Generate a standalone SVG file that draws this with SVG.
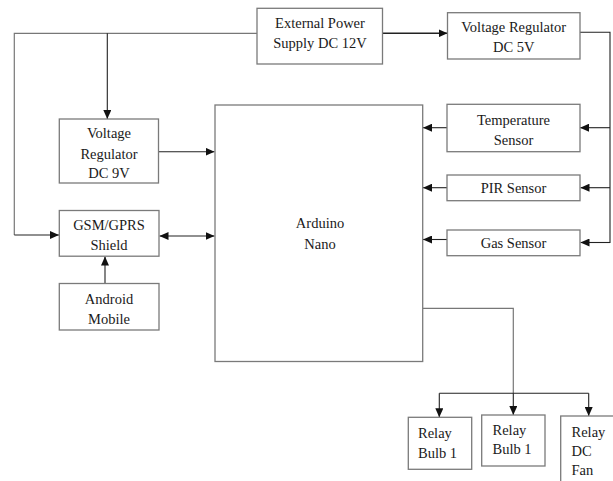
<svg xmlns="http://www.w3.org/2000/svg" width="613" height="481" viewBox="0 0 613 481">
<defs>
<style>
.box{fill:#fff;stroke:#7a7a7a;stroke-width:1.3}
.t{font-family:"Liberation Serif","Times New Roman",serif;font-size:14.5px;fill:#1a1a1a;text-anchor:middle}
.tl{font-family:"Liberation Serif","Times New Roman",serif;font-size:14.5px;fill:#1a1a1a}
.c{fill:none;stroke:#222;stroke-width:1.1}
.g{fill:none;stroke:#777;stroke-width:1.2}
</style>
<marker id="ah" markerUnits="userSpaceOnUse" markerWidth="9" markerHeight="8" refX="9" refY="4" orient="auto">
<path d="M0,0 L9,4 L0,8 z" fill="#111"/>
</marker>
<marker id="as" markerUnits="userSpaceOnUse" markerWidth="9" markerHeight="8" refX="0" refY="4" orient="auto">
<path d="M9,0 L0,4 L9,8 z" fill="#111"/>
</marker>
</defs>
<rect width="613" height="481" fill="#fff"/>
<g id="connectors">
<path class="g" d="M257,33.3 H14.3 V235"/>
<path class="c" d="M14.3,235 H59" marker-end="url(#ah)"/>
<path class="c" d="M107.3,33.3 V119" marker-end="url(#ah)"/>
<path class="c" style="stroke-width:1.6" d="M382.5,33.3 H447.5" marker-end="url(#ah)"/>
<path class="c" d="M580,32.3 H610 V243"/>
<path class="c" d="M610,127.7 H580" marker-end="url(#ah)"/>
<path class="c" d="M610,187.7 H580.5" marker-end="url(#ah)"/>
<path class="c" d="M610,242.5 H580.5" marker-end="url(#ah)"/>
<path class="c" d="M447,127.7 H423" marker-end="url(#ah)"/>
<path class="c" d="M447,187.7 H423" marker-end="url(#ah)"/>
<path class="c" d="M447,239.5 H423" marker-end="url(#ah)"/>
<path class="c" d="M158.5,151.7 H214.5" marker-end="url(#ah)"/>
<path class="c" d="M159.5,236 H214.5" marker-start="url(#as)" marker-end="url(#ah)"/>
<path class="c" d="M105,283.5 V256.5" marker-end="url(#ah)"/>
<path class="g" d="M423,308.3 H513.3 V393.3"/>
<path class="c" d="M439.3,393.3 H588.7"/>
<path class="c" d="M439.3,393.3 V417.3" marker-end="url(#ah)"/>
<path class="c" d="M513.3,393.3 V415" marker-end="url(#ah)"/>
<path class="c" d="M588.7,393.3 V416" marker-end="url(#ah)"/>
</g>
<g id="ext-power">
<rect class="box" x="257" y="8.3" width="125.5" height="55.7"/>
<text class="t" x="320" y="28">External Power</text>
<text class="t" x="320" y="48">Supply DC 12V</text>
</g>
<g id="vr5v">
<rect class="box" x="447.5" y="12.7" width="132.5" height="46.3"/>
<text class="t" x="513.7" y="31.5">Voltage Regulator</text>
<text class="t" x="513.7" y="52">DC 5V</text>
</g>
<g id="vr9v">
<rect class="box" x="59.3" y="119" width="99.2" height="64"/>
<text class="t" x="109" y="138">Voltage</text>
<text class="t" x="109" y="158.5">Regulator</text>
<text class="t" x="109" y="178">DC 9V</text>
</g>
<g id="gsm">
<rect class="box" x="59.3" y="210.5" width="99.7" height="45.7"/>
<text class="t" x="109" y="230">GSM/GPRS</text>
<text class="t" x="109" y="250">Shield</text>
</g>
<g id="android">
<rect class="box" x="59.3" y="283.5" width="99.7" height="46.5"/>
<text class="t" x="109" y="304">Android</text>
<text class="t" x="109" y="323.5">Mobile</text>
</g>
<g id="arduino">
<rect class="box" x="215" y="105" width="207.7" height="256.5"/>
<text class="t" x="320" y="228">Arduino</text>
<text class="t" x="320" y="248.5">Nano</text>
</g>
<g id="temp">
<rect class="box" x="447" y="104.3" width="133" height="47.4"/>
<text class="t" x="513.5" y="124.5">Temperature</text>
<text class="t" x="513.5" y="144.5">Sensor</text>
</g>
<g id="pir">
<rect class="box" x="447" y="175" width="133" height="25.7"/>
<text class="t" x="513.5" y="193">PIR Sensor</text>
</g>
<g id="gas">
<rect class="box" x="447" y="230" width="133" height="25.7"/>
<text class="t" x="513.5" y="248">Gas Sensor</text>
</g>
<g id="relay1">
<rect class="box" x="408.3" y="417.3" width="63.4" height="52"/>
<text class="tl" x="418" y="437.5">Relay</text>
<text class="tl" x="418" y="457.5">Bulb 1</text>
</g>
<g id="relay2">
<rect class="box" x="481.7" y="415" width="63.3" height="51"/>
<text class="tl" x="492.5" y="435">Relay</text>
<text class="tl" x="492.5" y="454">Bulb 1</text>
</g>
<g id="relay3">
<rect class="box" x="560.7" y="416" width="60" height="70"/>
<text class="tl" x="571.5" y="436.5">Relay</text>
<text class="tl" x="571.5" y="456">DC</text>
<text class="tl" x="571.5" y="475">Fan</text>
</g>
</svg>
